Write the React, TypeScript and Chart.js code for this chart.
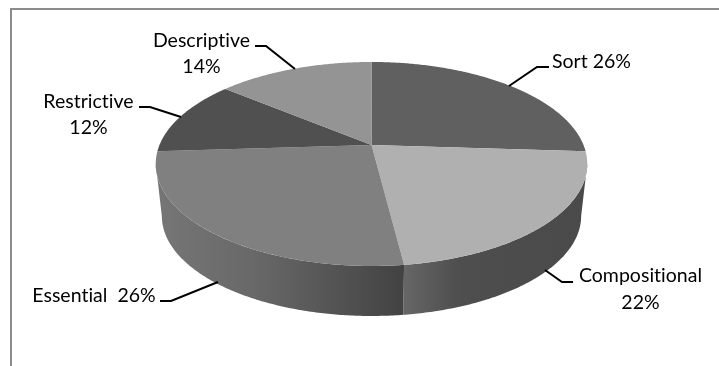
import React, { useEffect, useRef } from "react";
import { Chart, registerables } from "chart.js";

Chart.register(...registerables);

const categories = ["Sort", "Compositional", "Essential", "Restrictive", "Descriptive"];
const shares = [26, 22, 26, 12, 14];
const topColors = ["#606060", "#b0b0b0", "#808080", "#505050", "#949494"];

// Perspective of the disc: unit-circle coordinates go to pixels through a
// projective map, so the slice apex sits above the middle of the ellipse.
const lean = -0.186;
const lidRim = { cx: 371.5, k: 212, a: 71.5, b: 145 };
const baseRim = { cx: 371.5, k: 206, a: 59.8, b: 197.4 };

type Rim = typeof lidRim;
const project = (rim: Rim, angle: number) => {
  const ux = Math.cos(angle);
  const uy = Math.sin(angle);
  const d = 1 + lean * uy;
  return { x: rim.cx + (rim.k * ux) / d, y: (rim.a * uy + rim.b) / d };
};

// Front of the wall runs between the two points where the rim is widest.
const wallFrom = Math.asin(-lean) - 1e-3;
const wallTo = Math.PI - Math.asin(-lean) + 1e-3;

// Horizontal shading of the visible wall pieces, keyed by slice index.
const wallStops: Record<number, [number, string][]> = {
  0: [[0, "#4a4a4a"], [1, "#4a4a4a"]],
  1: [[0, "#666666"], [0.3, "#4e4e4e"], [1, "#4a4a4a"]],
  2: [[0, "#767676"], [0.4, "#686868"], [1, "#424242"]],
};

const labelLines = [
  { lines: [`${categories[0]} ${shares[0]}%`], cx: 591.5, y: [62], path: [[549, 67], [537, 67], [509, 86]] },
  { lines: [categories[1], `${shares[1]}%`], cx: 640.5, y: [276, 303], path: [[573, 282], [562, 282], [545, 270]] },
  { lines: [`${categories[2]}  ${shares[2]}%`], cx: 94, y: [296], path: [[160, 301], [171, 301], [218, 282]] },
  { lines: [categories[3], `${shares[3]}%`], cx: 88.5, y: [102, 128], path: [[139, 107], [150, 107], [181, 117]] },
  { lines: [categories[4], `${shares[4]}%`], cx: 201.5, y: [41, 67], path: [[255, 46], [266, 46], [295, 69]] },
];

const tracePath = (ctx: CanvasRenderingContext2D, rim: Rim, from: number, to: number, first: boolean) => {
  const steps = Math.max(2, Math.ceil(Math.abs(to - from) / 0.01));
  for (let i = 0; i <= steps; i++) {
    const p = project(rim, from + ((to - from) * i) / steps);
    if (i === 0 && first) ctx.moveTo(p.x, p.y);
    else ctx.lineTo(p.x, p.y);
  }
};

const discPlugin = {
  id: "perspectiveDisc",
  beforeDatasetsDraw(chart: Chart) {
    const ctx = chart.ctx;
    const arcs = chart.getDatasetMeta(0).data as any[];

    // Chart frame, open at the right and the bottom.
    ctx.save();
    ctx.strokeStyle = "#8c8c8c";
    ctx.lineWidth = 2;
    ctx.beginPath();
    ctx.moveTo(11, 366);
    ctx.lineTo(11, 9);
    ctx.lineTo(719, 9);
    ctx.stroke();

    // Wall under the rim.
    arcs.forEach((arc, i) => {
      const from = Math.max(arc.startAngle, wallFrom);
      const to = Math.min(arc.endAngle, wallTo);
      if (to <= from) return;
      const left = project(lidRim, to).x;
      const right = project(lidRim, from).x;
      const grad = ctx.createLinearGradient(left, 0, right, 0);
      (wallStops[i] ?? [[0, "#4a4a4a"], [1, "#4a4a4a"]]).forEach(([o, c]) => grad.addColorStop(o, c));
      ctx.beginPath();
      tracePath(ctx, lidRim, from, to, true);
      tracePath(ctx, baseRim, to, from, false);
      ctx.closePath();
      ctx.fillStyle = grad;
      ctx.fill();
    });

    // Lid slices, angles as laid out by the pie controller.
    arcs.forEach((arc) => {
      ctx.beginPath();
      ctx.moveTo(lidRim.cx, lidRim.b);
      tracePath(ctx, lidRim, arc.startAngle, arc.endAngle, false);
      ctx.closePath();
      ctx.fillStyle = arc.options.backgroundColor;
      ctx.fill();
    });

    // Callouts; the tiny letter spacing keeps "ti" from forming a ligature.
    ctx.font = "400 19.5px Lato";
    (ctx as any).letterSpacing = "0.01px";
    ctx.fillStyle = "#000";
    ctx.textAlign = "center";
    ctx.textBaseline = "middle";
    labelLines.forEach((l) => {
      l.lines.forEach((t, i) => ctx.fillText(t, l.cx, l.y[i]));
      ctx.beginPath();
      l.path.forEach(([x, y], i) => (i ? ctx.lineTo(x, y) : ctx.moveTo(x, y)));
      ctx.strokeStyle = "#000";
      ctx.lineWidth = 2;
      ctx.stroke();
    });
    ctx.restore();
    return false;
  },
};

export default function App() {
  const ref = useRef<HTMLCanvasElement>(null);
  useEffect(() => {
    const chart = new Chart(ref.current!, {
      type: "pie",
      data: {
        labels: categories,
        datasets: [{ data: shares, backgroundColor: topColors, borderWidth: 0 }],
      },
      options: {
        animation: false,
        responsive: false,
        plugins: { legend: { display: false }, tooltip: { enabled: false } },
      },
      plugins: [discPlugin],
    } as any);
    return () => chart.destroy();
  }, []);
  return (
    <div style={{ position: "fixed", inset: 0, background: "#fff" }}>
      <canvas ref={ref} width={719} height={366} style={{ display: "block" }} />
    </div>
  );
}
